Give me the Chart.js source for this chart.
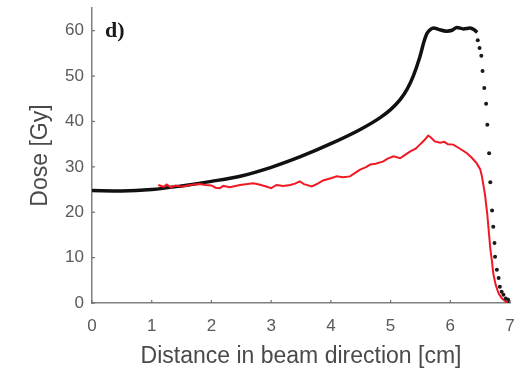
<!DOCTYPE html>
<html><head><meta charset="utf-8">
<script src="https://cdn.jsdelivr.net/npm/chart.js@4"></script>
<style>html,body{margin:0;padding:0;background:#fff}#wrap{width:522px;height:373px}</style>
</head><body><div id="wrap"><canvas id="c" width="522" height="373"></canvas></div>
<script>
const xTicks = [0,1,2,3,4,5,6,7];
const yTicks = [0,10,20,30,40,50,60];

// Black curve (continuous part)
const blackX = [0,0.5,1,1.5,2,2.5,3,3.5,4,4.5,4.82,5.0,5.16,5.28,5.38,5.49,5.56,5.61,5.67,5.72,5.8,5.94,6.03,6.11,6.22,6.33,6.4,6.45];
const blackY = [24.8,24.7,25.0,25.8,26.8,28.0,29.9,32.3,35.1,38.3,40.8,42.6,44.8,47.2,50.0,54.2,57.6,59.4,60.3,60.6,60.3,59.9,60.1,60.7,60.4,60.6,60.2,59.6];

// Black curve (dotted falloff)
const dotX = [6.46,6.49,6.52,6.54,6.57,6.60,6.62,6.65,6.67,6.70,6.72,6.74,6.75,6.78,6.81,6.83,6.86,6.89,6.93,6.97,7.0];
const dotY = [57.9,56.2,54.5,51.1,47.4,43.9,39.3,33.0,26.6,20.4,16.8,13.2,10.2,7.3,5.5,3.6,2.5,1.8,1.0,0.7,0.3];

// Red curve
const redX = [1.11,1.2,1.25,1.32,1.4,1.5,1.6,1.7,1.8,1.9,2.0,2.07,2.14,2.2,2.31,2.4,2.48,2.6,2.7,2.8,2.93,3.0,3.09,3.2,3.32,3.4,3.48,3.55,3.68,3.78,3.87,4.0,4.1,4.2,4.32,4.4,4.49,4.58,4.66,4.75,4.88,4.95,5.05,5.16,5.25,5.33,5.42,5.49,5.56,5.63,5.68,5.74,5.83,5.9,5.96,6.05,6.15,6.28,6.36,6.44,6.5,6.53,6.58,6.62,6.65,6.67,6.70,6.72,6.76,6.81,6.86,6.89,6.94,7.0];
const redY = [26.0,25.6,26.1,25.5,25.9,25.6,25.9,26.1,26.2,26.0,25.9,25.4,25.3,25.8,25.5,25.8,26.0,26.2,26.4,26.1,25.6,25.3,26.0,25.8,26.0,26.3,26.8,26.2,25.7,26.3,27.0,27.5,27.9,27.7,27.9,28.6,29.4,29.9,30.5,30.7,31.2,31.8,32.3,31.9,32.7,33.4,34.0,34.9,35.8,36.9,36.4,35.6,35.3,35.5,35.0,34.9,34.1,33.0,32.0,30.8,29.5,27.9,24.0,19.5,15.0,12.0,9.0,6.5,4.0,2.1,1.1,0.7,0.2,0.0];

const pts = (xs, ys) => xs.map((v,i)=>({x:v, y:ys[i]}));

const innerTicks = {
  id: 'innerTicks',
  afterDatasetsDraw(chart) {
    const {ctx, scales:{x, y}} = chart;
    ctx.save();
    ctx.strokeStyle = '#707070';
    ctx.lineWidth = 1.2;
    x.ticks.forEach(t => {
      const px = x.getPixelForValue(t.value);
      ctx.beginPath(); ctx.moveTo(px, x.top); ctx.lineTo(px, x.top - 3); ctx.stroke();
    });
    y.ticks.forEach(t => {
      const py = y.getPixelForValue(t.value);
      ctx.beginPath(); ctx.moveTo(y.right, py); ctx.lineTo(y.right + 3, py); ctx.stroke();
    });
    ctx.fillStyle = '#1a1a1a';
    ctx.font = 'bold 22px "Liberation Serif", "DejaVu Serif", serif';
    ctx.textBaseline = 'alphabetic';
    ctx.textAlign = 'left';
    ctx.fillText('d)', chart.chartArea.left + 13, chart.chartArea.top + 29);
    ctx.restore();
  }
};

new Chart(document.getElementById('c'), {
  type: 'scatter',
  data: {
    datasets: [
      { label: 'falloff', data: pts(dotX, dotY), showLine: false, pointRadius: 2, pointBackgroundColor: '#1a1a1a', pointBorderWidth: 0, order: 0 },
      { label: 'red', data: pts(redX, redY), showLine: true, borderColor: 'rgb(240,25,35)', borderWidth: 2, pointRadius: 0, tension: 0, order: 1 },
      { label: 'black', data: pts(blackX, blackY), showLine: true, borderColor: '#111', borderWidth: 3.5, pointRadius: 0, cubicInterpolationMode: 'monotone', order: 2 }
    ]
  },
  options: {
    responsive: false,
    animation: false,
    layout: { padding: { left: 0, right: 12, top: 8, bottom: 0 } },
    plugins: { legend: { display: false }, tooltip: { enabled: false } },
    scales: {
      x: {
        type: 'linear', min: 0, max: 7,
        afterBuildTicks: s => { s.ticks = xTicks.map(v => ({value: v})); },
        afterFit: s => { s.height = 70; s.paddingLeft = 0; s.paddingRight = 0; },
        grid: { display: true, drawOnChartArea: false, drawTicks: false },
        border: { display: true, color: '#808080', width: 1.5 },
        ticks: { color: '#5a5a5a', font: { family: '"Liberation Sans", Arial, sans-serif', size: 17 }, padding: 13, maxRotation: 0 },
        title: { display: true, text: 'Distance in beam direction [cm]', color: '#4a4a4a', font: { family: '"Liberation Sans", Arial, sans-serif', size: 23 }, padding: { top: 0, bottom: 3 } }
      },
      y: {
        type: 'linear', min: 0, max: 65,
        afterBuildTicks: s => { s.ticks = yTicks.map(v => ({value: v})); },
        afterFit: s => { s.width = 92; s.paddingTop = 0; s.paddingBottom = 0; },
        grid: { display: true, drawOnChartArea: false, drawTicks: false },
        border: { display: true, color: '#808080', width: 1.5 },
        ticks: { color: '#5a5a5a', font: { family: '"Liberation Sans", Arial, sans-serif', size: 17 }, padding: 8 },
        title: { display: true, text: 'Dose [Gy]', color: '#4a4a4a', font: { family: '"Liberation Sans", Arial, sans-serif', size: 23 }, padding: { top: 27, bottom: 0 } }
      }
    }
  },
  plugins: [innerTicks]
});
</script>
</body></html>
